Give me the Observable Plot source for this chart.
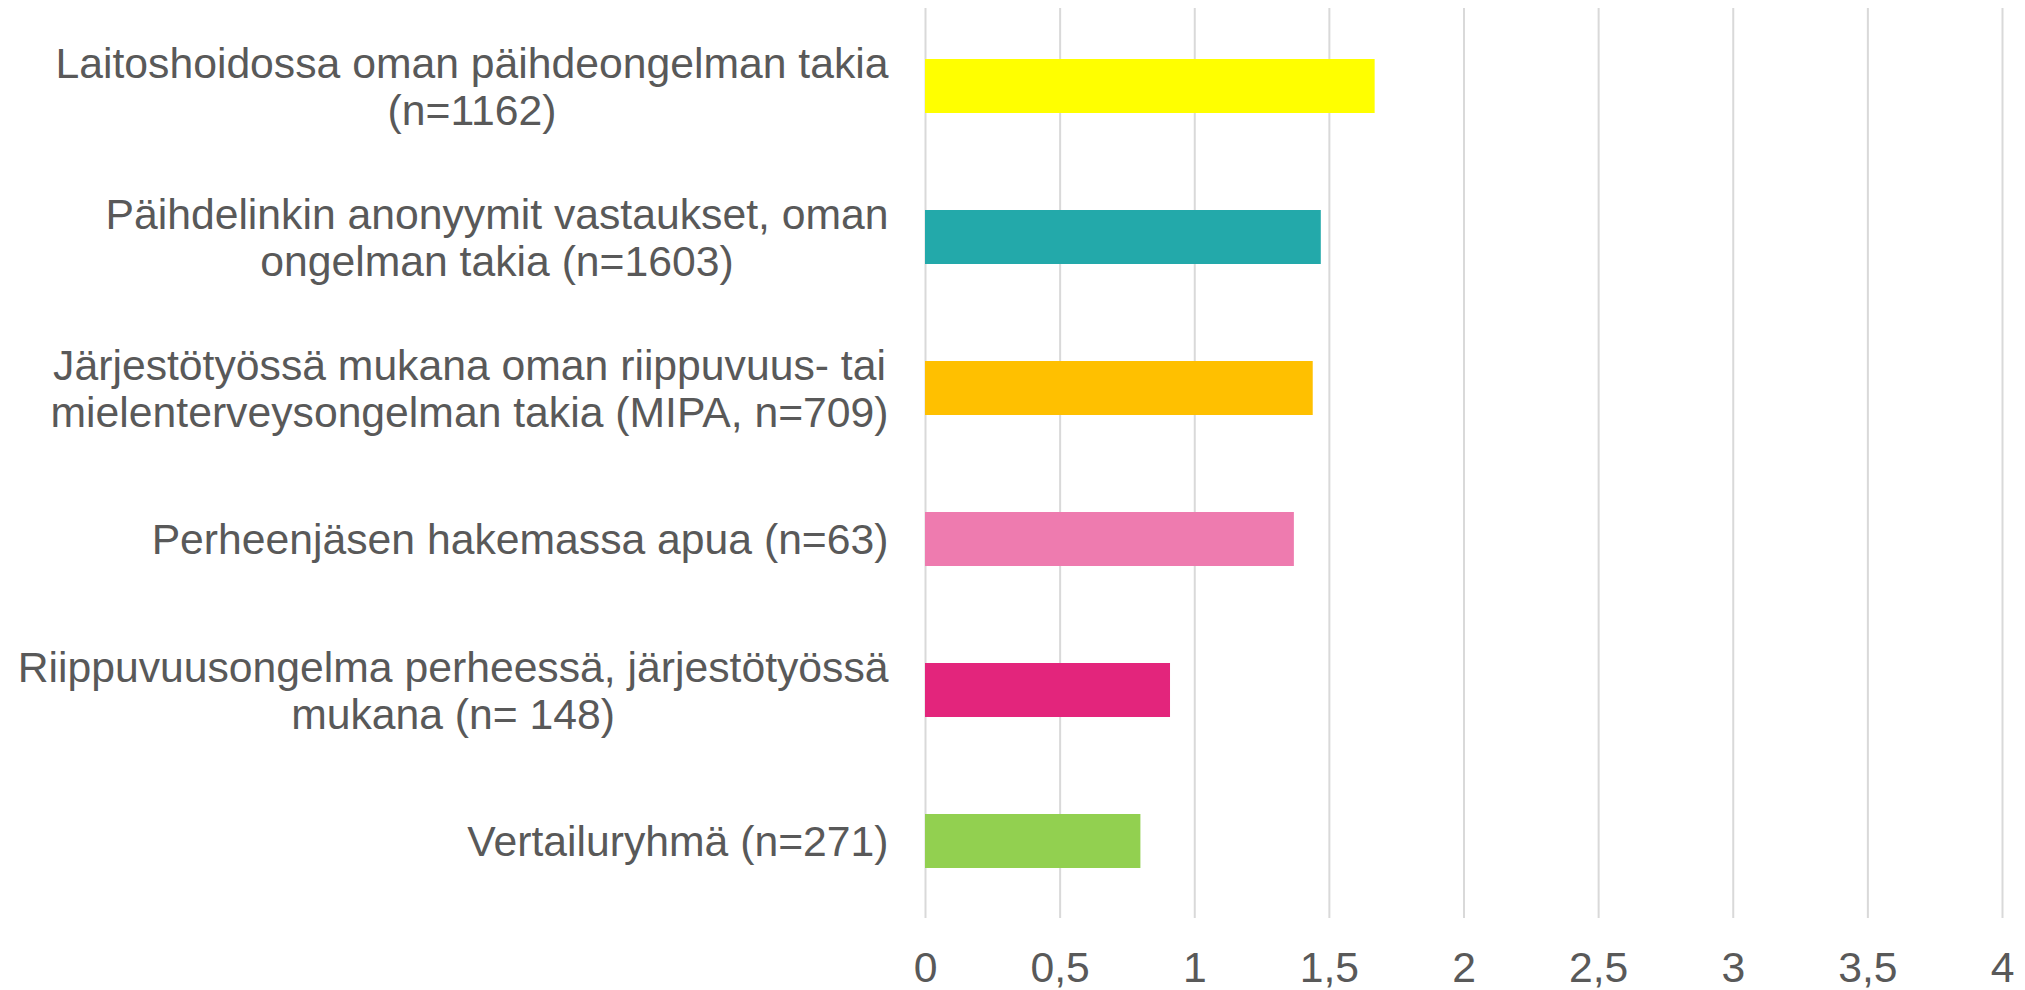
<!DOCTYPE html>
<html>
<head>
<meta charset="utf-8">
<script src="https://cdn.jsdelivr.net/npm/d3@7"></script>
<script src="https://cdn.jsdelivr.net/npm/@observablehq/plot@0.6"></script>
<style>
  html, body { margin: 0; padding: 0; background: #fff; }
  #chart svg { display: block; }
</style>
</head>
<body>
<div id="chart"></div>
<script>
const categories = [
  "Laitoshoidossa oman päihdeongelman takia\n(n=1162)",
  "Päihdelinkin anonyymit vastaukset, oman\nongelman takia (n=1603)",
  "Järjestötyössä mukana oman riippuvuus- tai\nmielenterveysongelman takia (MIPA, n=709)",
  "Perheenjäsen hakemassa apua (n=63)",
  "Riippuvuusongelma perheessä, järjestötyössä\nmukana (n= 148)",
  "Vertailuryhmä (n=271)"
];
const values = [1.67, 1.47, 1.44, 1.37, 0.91, 0.80];
const colors = ["#FFFF00", "#23A9AA", "#FFC000", "#EE7BAF", "#E3257C", "#92D050"];
const xTicks = [0, 0.5, 1, 1.5, 2, 2.5, 3, 3.5, 4];
const xTickLabels = ["0", "0,5", "1", "1,5", "2", "2,5", "3", "3,5", "4"];

const data = categories.map((c, i) => ({category: c, value: values[i], color: colors[i]}));

const FS = 42.7;
const FONT = FS + "px 'Liberation Sans', Arial, sans-serif";
const ctx = document.createElement("canvas").getContext("2d");
ctx.font = FONT;
const blockWidth = (s) => Math.max(...s.split("\n").map(l => ctx.measureText(l).width));
const gap = 37;

const labelMarks = categories.map(c =>
  Plot.text([c], {
    x: () => 0,
    y: d => d,
    text: d => d,
    textAnchor: "middle",
    lineAnchor: "middle",
    lineHeight: 1.09,
    dx: -(gap + blockWidth(c) / 2),
    fill: "#595959",
    fontSize: FS
  })
);

const chart = Plot.plot({
  width: 2025,
  height: 990,
  marginLeft: 925,
  marginRight: 23,
  marginTop: 8,
  marginBottom: 72,
  style: {fontFamily: "'Liberation Sans', Arial, sans-serif", background: "#fff", color: "#595959"},
  x: {domain: [0, 4], ticks: xTicks, axis: null},
  y: {domain: categories, paddingInner: 0.644, paddingOuter: 0.322, axis: null},
  color: {type: "identity"},
  marks: [
    Plot.gridX(xTicks, {stroke: "#d9d9d9", strokeOpacity: 1, strokeWidth: 2}),
    Plot.barX(data, {x: "value", y: "category", fill: "color"}),
    Plot.axisX(xTicks, {
      tickSize: 0,
      tickPadding: 33,
      tickFormat: (d) => xTickLabels[xTicks.indexOf(d)],
      fontSize: FS,
      fill: "#595959",
      label: null
    }),
    ...labelMarks
  ]
});
document.getElementById("chart").appendChild(chart);
</script>
</body>
</html>
